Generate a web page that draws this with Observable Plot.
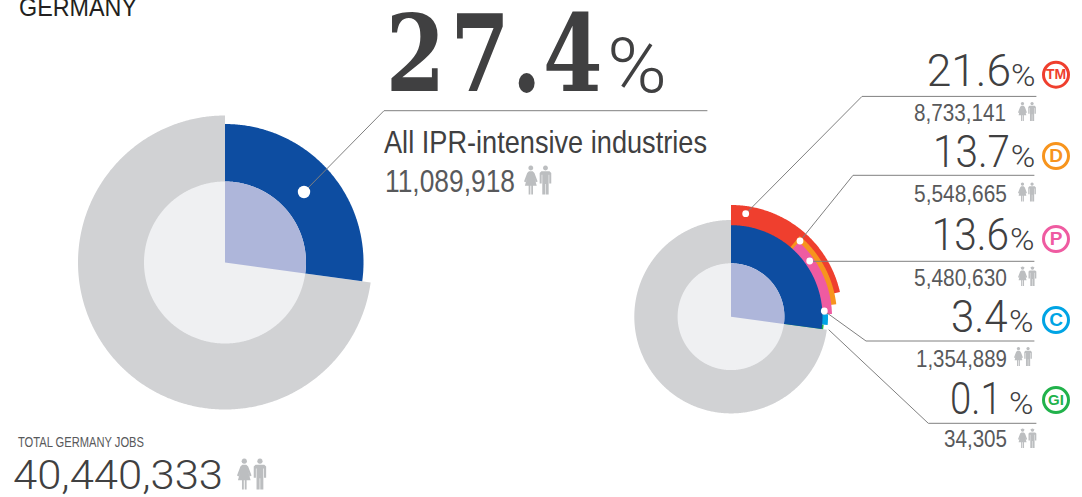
<!DOCTYPE html>
<html><head><meta charset="utf-8">
<script src="https://cdn.jsdelivr.net/npm/d3@7"></script>
<script src="https://cdn.jsdelivr.net/npm/@observablehq/plot@0.6"></script>
<style>html,body{margin:0;padding:0;background:#fff;overflow:hidden}svg{display:block}</style>
</head><body><div id="chart"></div>
<script>
// ---------- values ----------
const country = "GERMANY";
const totalCaption = "TOTAL GERMANY JOBS";
const totalJobs = "40,440,333";
const overallLabel = "All IPR-intensive industries";
const overallShare = "27.4";
const overallJobs = "11,089,918";
const rightShares = ["21.6", "13.7", "13.6", "3.4", "0.1"];
const rightJobs = ["8,733,141", "5,548,665", "5,480,630", "1,354,889", "34,305"];
const rightBadges = ["TM", "D", "P", "C", "GI"];
// wedge extents as drawn, degrees clockwise from twelve o'clock
const wedgeFrom = [0, 40.5, 42.2, 88.5, 94.9];
const wedgeTo = [77.2, 83.2, 88.5, 94.9, 97.8];
const sectorEnd = 97.8;

// ---------- styles and layout ----------
const colors = ["#ef3f2e", "#f7941d", "#ef5ba1", "#00a4e4", "#21b24b"];
const wedgeOuter = [111.7, 106, 101, 97, 93];
const BLUE = "#0d4da1", PALE = "#aeb6da", GREY = "#d1d2d4", DISC = "#eff0f2", ICON = "#bcbec0";
const DARK = "#404041", MID = "#58595b", RULE = "#808080";
const left = {cx: 225, cy: 262.5, r0: 81, r1: 138.5, r2: 147};
const right = {cx: 731, cy: 316.7, r0: 53.4, r1: 91.5, r2: 96.7};

const polys = [];
let pid = 0;
function arc(c, a0, a1, r0, r1, color) {
  const id = pid++, n = Math.max(2, Math.ceil((a1 - a0) / 0.5));
  const add = (a, r) => {
    const t = a * Math.PI / 180;
    polys.push({id, color, px: c.cx + r * Math.sin(t), py: c.cy - r * Math.cos(t)});
  };
  for (let i = 0; i <= n; i++) add(a0 + (a1 - a0) * i / n, r1);
  if (r0 > 0) for (let i = n; i >= 0; i--) add(a0 + (a1 - a0) * i / n, r0);
  else add(a0, 0);
}
function disc(c) {
  arc(c, 0, 360, 0, c.r0, DISC);
  arc(c, 0, sectorEnd, 0, c.r0, PALE);
}
arc(left, sectorEnd, 360, 0, left.r2, GREY);
arc(left, 0, sectorEnd, 0, left.r1, BLUE);
disc(left);
arc(right, sectorEnd, 360, 0, right.r2, GREY);
wedgeFrom.forEach((a, i) => arc(right, a, wedgeTo[i], 0, wedgeOuter[i], colors[i]));
arc(right, 0, sectorEnd, 0, right.r1, BLUE);
disc(right);

// person icons
function icon(x, y, h) {
  const s = h, add = (pts) => { const id = pid++; pts.forEach(([a, b]) => polys.push({id, color: ICON, px: x + a * s, py: y + b * s})); };
  const head = (cx) => add(d3.range(0, 360, 30).map(a => [cx + .085 * Math.sin(a * Math.PI / 180), .085 + .085 * Math.cos(a * Math.PI / 180)]));
  head(.235);
  add([[.17, .2], [.3, .2], [.36, .26], [.47, .55], [.41, .58], [.36, .42], [.44, .7], [.31, .7], [.31, 1], [.25, 1], [.25, .7], [.22, .7], [.22, 1], [.16, 1], [.16, .7], [.03, .7], [.11, .42], [.06, .58], [0, .55], [.11, .26]]);
  head(.74);
  add([[.6, .2], [.88, .2], [.94, .26], [.94, .62], [.87, .62], [.87, .32], [.85, .32], [.85, 1], [.75, 1], [.75, .64], [.73, .64], [.73, 1], [.63, 1], [.63, .32], [.61, .32], [.61, .62], [.54, .62], [.54, .26]]);
}
const iconSpots = [[524, 165.5, 29], [237, 458.5, 31], [1018, 102, 19], [1018, 182.5, 19], [1018, 266.5, 19.5], [1014, 347, 19], [1018, 428.5, 19.5]];
iconSpots.forEach(p => icon(...p));

// leaders: dot, elbow, end
const leaders = [
  [[304, 192], [384, 110.7], [707, 110.7]],
  [[745.7, 213.7], [862, 96.4], [1036, 96.4]],
  [[800, 241], [853, 175.3], [1034, 175.3]],
  [[809.7, 261.3], [1034, 261.3]],
  [[824.3, 311], [866, 341], [1034, 341]],
  [[829, 330], [928.3, 423.3], [1036, 423.3]]
];
const leaderRows = leaders.flatMap((l, id) => l.map(([lx, ly]) => ({id, lx, ly})));
const bigDot = [[304, 192]];
const smallDots = [[745.7, 213.7], [800, 241], [809.7, 261], [824.3, 311]];
const badgeSpots = [[1056, 74.7, 14, "TM"], [1056, 156, 19, "D"], [1056, 239, 19, "P"], [1056, 320, 19, "C"], [1056, 400, 15, "GI"]];

// text: string, left x, baseline, size, drawn width
const SANS = "'Liberation Sans Narrow','Liberation Sans',sans-serif";
const PLAIN = "'Liberation Sans',sans-serif";
const SLAB = "'DejaVu Serif',serif";
const LIGHT = "Roboto,sans-serif";
function text(s, x, y, size, w, fill, font, weight) {
  return Plot.text([s], {
    x: () => x, y: () => y, text: d => d, fontSize: size, fill, fontFamily: font, fontWeight: weight || 400,
    textAnchor: "start", lineAnchor: "bottom",
    render(i, sc, v, d, c, next) {
      const g = next(i, sc, v, d, c);
      d3.select(g).selectAll("text").attr("textLength", w).attr("lengthAdjust", "spacingAndGlyphs");
      return g;
    }
  });
}
// text with each glyph placed on its own centre, one string kept whole
function spaced(s, xs, y, size, cell, fill, font, weight, squeeze) {
  const k = squeeze || 1;
  return Plot.text([s], {
    x: () => 0, y: () => y, text: d => d, fontSize: size, fill, fontFamily: font, fontWeight: weight || 400,
    textAnchor: "start", lineAnchor: "bottom",
    render(i, sc, v, d, c, next) {
      const g = next(i, sc, v, d, c);
      d3.select(g).selectAll("text").each(function () {
        const t = this.getAttribute("transform") || "";
        if (k !== 1) this.setAttribute("transform", `${t} scale(${k},1)`);
        this.setAttribute("x", xs.map((cx, j) => cx / k - cell(s[j]) / 2).join(" "));
      });
      return g;
    }
  });
}
const punct = c => c === "." || c === ",";
const numSpots = [[926.7, 86, 84.3, 1011], [933, 166.7, 77, 1010.7], [931.7, 250, 77.3, 1010], [951, 331.7, 56.7, 1009], [950, 414, 51.7, 1009]];
const jobSpots = [[914, 121, 92], [914, 201.7, 93], [914, 286, 93], [916, 366.7, 91], [944, 447.3, 63]];
const bigCentres = [415.5, 480, 526.7, 572.8];

const marks = [
  Plot.line(polys, {x: "px", y: "py", z: "id", fill: "color", stroke: null}),
  Plot.line(leaderRows, {x: "lx", y: "ly", z: "id", stroke: RULE, strokeWidth: 1}),
  Plot.dot(bigDot, {x: d => d[0], y: d => d[1], r: 6.2, fill: "#fff", stroke: null}),
  Plot.dot(smallDots, {x: d => d[0], y: d => d[1], r: 3.4, fill: "#fff", stroke: null}),
  Plot.dot(badgeSpots, {x: d => d[0], y: d => d[1], r: 12.5, stroke: (d, i) => colors[i], strokeWidth: 3, fill: "#fff"}),
  ...badgeSpots.map((b, i) => Plot.text([rightBadges[i]], {x: () => b[0], y: () => b[1], text: d => d, fontSize: b[2], fontWeight: 700, fontFamily: PLAIN, fill: colors[i]})),
  text(country, 19, 16, 26, 118, "#231f20", SANS),
  text(totalCaption, 18, 447, 14, 126, MID, SANS),
  text(totalJobs, 13, 488.5, 41, 210, DARK, LIGHT, 300),
  spaced(overallShare, bigCentres, 90.5, 107, c => punct(c) ? 37.2 : 74.5, DARK, SLAB, 700, 0.8),
  text("%", 607, 91.5, 76, 60, DARK, LIGHT, 300),
  text(overallLabel, 384, 153, 32, 323, DARK, SANS),
  text(overallJobs, 385, 191.5, 32, 130, MID, SANS),
  ...rightShares.flatMap((s, i) => {
    const [x, y, w, px] = numSpots[i];
    return [text(s, x, y, 45, w, DARK, LIGHT, 300), text("%", px, y, 32, 24.5, DARK, LIGHT, 300)];
  }),
  ...rightJobs.map((s, i) => { const [x, y, w] = jobSpots[i]; return text(s, x, y, 24, w, MID, SANS); })
];

const plot = Plot.plot({
  width: 1082, height: 497, margin: 0,
  x: {type: "linear", domain: [0, 1082], range: [-0.5, 1081.5], axis: null},
  y: {type: "linear", domain: [0, 497], range: [-0.5, 496.5], axis: null},
  style: {background: "#fff"},
  marks
});
document.getElementById("chart").append(plot);
</script></body></html>
